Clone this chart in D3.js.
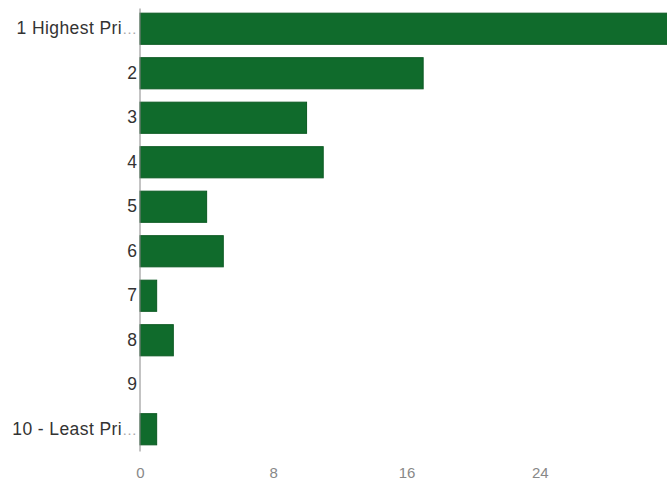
<!DOCTYPE html>
<html>
<head>
<meta charset="utf-8">
<script src="https://cdn.jsdelivr.net/npm/d3@7"></script>
<style>
  html, body { margin: 0; padding: 0; background: #fff; }
  svg { display: block; }
</style>
</head>
<body>
<svg id="chart" width="667" height="483"></svg>
<script>
const categories = ["1 Highest Pri…", "2", "3", "4", "5", "6", "7", "8", "9", "10 - Least Pri…"];
const values = [32, 17, 10, 11, 4, 5, 1, 2, 0, 1];
const xTicks = [0, 8, 16, 24];

const svg = d3.select("#chart");
const x = d3.scaleLinear().domain([0, 32]).range([140, 673]);
const y = d3.scaleBand().domain(categories).range([6.5, 451.5]).paddingInner(0.3).paddingOuter(0.15);

// bars
svg.append("g").selectAll("rect").data(categories).join("rect")
  .attr("x", x(0))
  .attr("y", d => y(d))
  .attr("width", (d, i) => x(values[i]) - x(0))
  .attr("height", y.bandwidth())
  .attr("fill", "#106b2c")
  .attr("stroke", "#0b5a22")
  .attr("stroke-width", 1);

// y axis
const yAxis = d3.axisLeft(y).tickSize(0).tickPadding(3);
const gy = svg.append("g").attr("transform", `translate(${x(0)},0)`).call(yAxis);
gy.select(".domain").attr("stroke", "#888").attr("d", `M0,${y.range()[0] + 2}V${y.range()[1]}`);
gy.selectAll("text")
  .attr("font-family", "Liberation Sans, Arial, sans-serif")
  .attr("font-size", 17.5)
  .attr("fill", "#333")
  .each(function(d) {
    const t = d3.select(this);
    if (d.endsWith("…")) {
      t.text(null);
      t.append("tspan").attr("letter-spacing", 0.4).text(d.slice(0, -1));
      t.append("tspan").attr("font-size", 15).attr("fill", "#aaa").text("…");
    }
  });

// x axis (labels only)
const xAxis = d3.axisBottom(x).tickValues(xTicks).tickSize(0).tickPadding(0);
const gx = svg.append("g").attr("transform", "translate(0,467)").call(xAxis);
gx.select(".domain").remove();
gx.selectAll("text")
  .attr("font-family", "Liberation Sans, Arial, sans-serif")
  .attr("font-size", 15)
  .attr("fill", "#888");
</script>
</body>
</html>
